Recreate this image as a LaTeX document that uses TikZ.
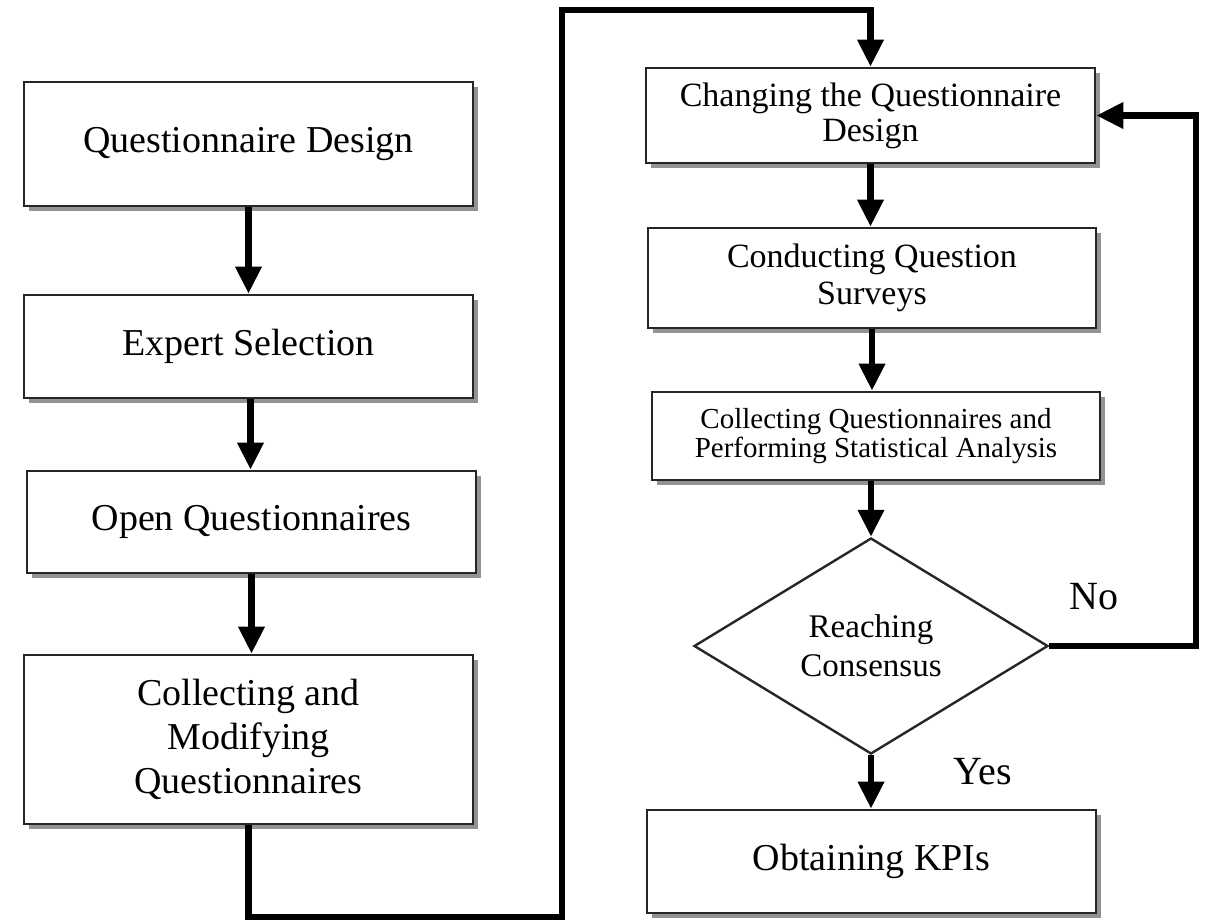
\documentclass[tikz,border=0pt]{standalone}
\usepackage{fontspec}
\setmainfont{Liberation Serif}
\usetikzlibrary{arrows.meta,shapes.geometric,shadows}
\tikzset{
  stepbox/.style={draw=black!85, line width=2.6pt, fill=white, rectangle,
    inner sep=0pt, align=center,
    drop shadow={shadow xshift=5pt, shadow yshift=-5pt, fill=black!50, opacity=0.85}},
  decision/.style={draw=black!85, line width=2.4pt, fill=white, diamond,
    inner sep=0pt, align=center},
  txtL/.style={font=\fontsize{38}{44}\selectfont},
  txtM/.style={font=\fontsize{34}{35}\selectfont},
  txtS/.style={font=\fontsize{29}{29}\selectfont},
  lbl/.style={font=\fontsize{40}{44}\selectfont, inner sep=0pt},
  flow/.style={line width=6.5pt, -{Triangle[width=25pt,length=27pt]}},
}
\begin{document}
\begin{tikzpicture}[x=1pt, y=-1pt]
  \useasboundingbox (0,0) rectangle (1215,922);

  % left column
  \node[stepbox, txtL, minimum width=449pt, minimum height=124pt] (b1) at (248.5,144)
    {Questionnaire Design};
  \node[stepbox, txtL, minimum width=449pt, minimum height=103pt] (b2) at (248.5,346.5)
    {Expert Selection};
  \node[stepbox, txtL, minimum width=449pt, minimum height=102pt] (b3) at (251.5,522)
    {Open Questionnaires};
  \node[stepbox, txtL, minimum width=449pt, minimum height=169pt] (b4) at (248.5,739.5)
    {Collecting and\\Modifying\\Questionnaires};

  % right column
  \node[stepbox, txtM, minimum width=449pt, minimum height=95pt] (b5) at (870.5,115.5)
    {Changing the Questionnaire\\Design};
  \node[stepbox, txtM, font=\fontsize{34}{37}\selectfont, minimum width=448pt, minimum height=100pt] (b6) at (872,278)
    {Conducting Question\\Surveys};
  \node[stepbox, txtS, minimum width=448pt, minimum height=88pt] (b7) at (876,436)
    {Collecting Questionnaires and\\Performing Statistical Analysis};
  \node[decision, font=\fontsize{33}{39}\selectfont, minimum width=354pt, minimum height=216pt] (d) at (871,646)
    {Reaching\\Consensus};
  \node[stepbox, txtL, minimum width=449pt, minimum height=103pt] (b8) at (871.5,861.5)
    {Obtaining KPIs};

  % branch labels
  \node[lbl] (no) at (1094,597) {No};
  \node[lbl] (yes) at (983,772) {Yes};

  % route points of the long connectors
  \coordinate (low) at (562,917);
  \coordinate (high) at (562,10);
  \coordinate (back) at (1196,115.5);

  % connectors
  \draw[flow] (b1.south) -- (b2.north);
  \draw[flow] ([xshift=2pt]b2.south) -- ([xshift=2pt]b2.south |- b3.north);
  \draw[flow] (b3.south) -- (b3.south |- b4.north);
  \draw[flow] (b4.south) |- (low) -- (high) -| (b5.north);
  \draw[flow] (b5.south) -- (b5.south |- b6.north);
  \draw[flow] (b6.south) -- (b6.south |- b7.north);
  \draw[flow] (b7.south -| d.north) -- (d.north);
  \draw[flow] (d.south) -- (d.south |- b8.north);
  \draw[flow] (d.east) -| (back) -- (b5.east);
\end{tikzpicture}
\end{document}
